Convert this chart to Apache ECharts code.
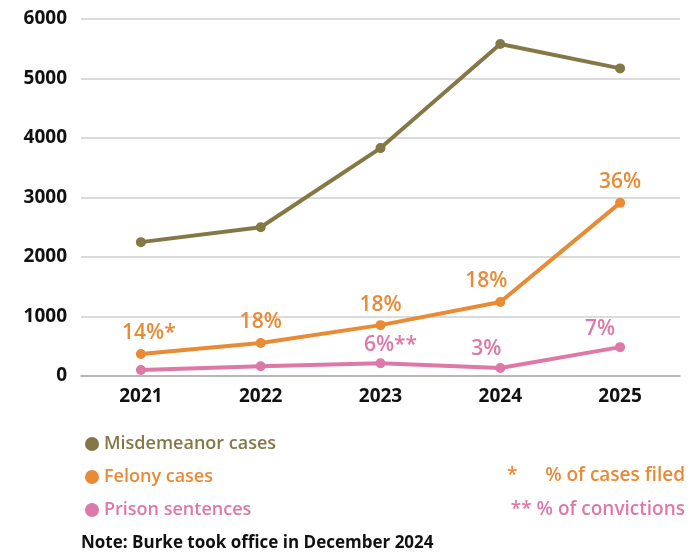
<!DOCTYPE html>
<html>
<head>
<meta charset="utf-8">
<script src="https://cdn.jsdelivr.net/npm/echarts@6/dist/echarts.min.js"></script>
<style>
    html, body { margin: 0; padding: 0; background: #fff; }
    #chart { width: 699px; height: 554px; }
</style>
</head>
<body>
<div id="chart"></div>
<script>
const years = ['2021', '2022', '2023', '2024', '2025']
const misdemeanor = [2250, 2500, 3830, 5580, 5170]
const felony = [370, 555, 855, 1245, 2910]
const prison = [100, 165, 215, 135, 485]
const felonyLabels = ['14%*', '18%', '18%', '18%', '36%']
const prisonLabels = ['', '', '6%**', '3%', '7%']
const yTicks = [0, 1000, 2000, 3000, 4000, 5000, 6000]

const OLIVE = '#857847'
const ORANGE = '#e98a34'
const PINK = '#dd78a9'
const FONT = '"Open Sans", "Noto Sans", sans-serif'

// label offsets so the numbers sit like the original
const felonyOffsets = [[8, 0], [0, 0], [0, 0], [-14, 0], [0, 0]]
const prisonOffsets = [[0, 0], [0, 0], [10, 2], [-14, 2], [-20, 2]]

const chart = echarts.init(document.getElementById('chart'))

const labelled = (values, labels, offsets, color) => values.map((v, i) => ({
    value: v,
    label: {
        show: labels[i] !== '',
        formatter: labels[i],
        position: 'top',
        distance: 5,
        offset: offsets[i],
        color: color,
        fontFamily: FONT,
        fontSize: 21,
        fontWeight: 600
    }
}))

chart.setOption({
    animation: false,
    grid: { left: 81, right: 19, top: 19, bottom: 178 },
    xAxis: {
        type: 'category',
        data: years,
        axisLine: { show: true, lineStyle: { color: '#aaa', width: 1.5 } },
        axisTick: { show: false },
        axisLabel: { color: '#111', fontFamily: FONT, fontSize: 19, fontWeight: 700, margin: 11 }
    },
    yAxis: {
        type: 'value',
        min: yTicks[0],
        max: yTicks[yTicks.length - 1],
        interval: 1000,
        axisLine: { show: false },
        axisTick: { show: false },
        splitLine: { lineStyle: { color: '#cfcfcf', width: 1.5 } },
        axisLabel: {
            color: '#111', fontFamily: FONT, fontSize: 19, fontWeight: 700, margin: 14,
            formatter: v => String(v)
        }
    },
    legend: {
        orient: 'vertical',
        left: 80,
        top: 430,
        itemGap: 15,
        itemWidth: 14,
        itemHeight: 14,
        icon: 'circle',
        textStyle: { fontFamily: FONT, fontSize: 18, fontWeight: 600 },
        data: [
            { name: 'Misdemeanor cases', textStyle: { color: OLIVE } },
            { name: 'Felony cases', textStyle: { color: ORANGE } },
            { name: 'Prison sentences', textStyle: { color: PINK } }
        ]
    },
    series: [
        {
            name: 'Misdemeanor cases',
            type: 'line',
            data: misdemeanor,
            color: OLIVE,
            symbol: 'circle',
            symbolSize: 10,
            lineStyle: { width: 4 }
        },
        {
            name: 'Felony cases',
            type: 'line',
            data: labelled(felony, felonyLabels, felonyOffsets, ORANGE),
            color: ORANGE,
            symbol: 'circle',
            symbolSize: 10,
            lineStyle: { width: 4 }
        },
        {
            name: 'Prison sentences',
            type: 'line',
            data: labelled(prison, prisonLabels, prisonOffsets, PINK),
            color: PINK,
            symbol: 'circle',
            symbolSize: 10,
            lineStyle: { width: 4 }
        }
    ],
    graphic: [
        {
            type: 'text', left: 507, top: 466,
            style: { text: '*', fill: ORANGE, font: '600 19px ' + FONT }
        },
        {
            type: 'text', right: 14, top: 466,
            style: { text: '% of cases filed', fill: ORANGE, font: '600 19px ' + FONT }
        },
        {
            type: 'text', right: 14, top: 500,
            style: { text: '** % of convictions', fill: PINK, font: '600 19px ' + FONT }
        },
        {
            type: 'text', left: 81, top: 535,
            style: { text: 'Note: Burke took office in December 2024', fill: '#111', font: '700 17px ' + FONT }
        }
    ]
})
</script>
</body>
</html>
